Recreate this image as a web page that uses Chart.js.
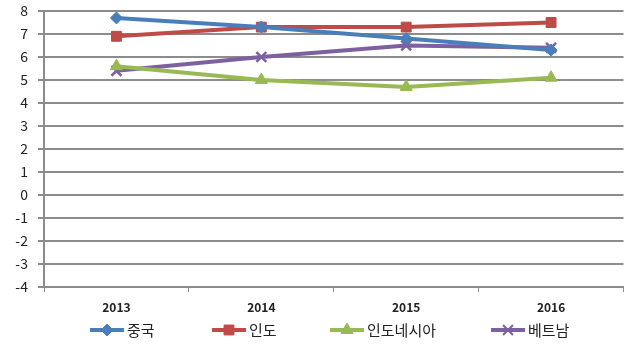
<!DOCTYPE html>
<html>
<head>
<meta charset="utf-8">
<script src="https://cdn.jsdelivr.net/npm/chart.js@4"></script>
<style>
  html, body { margin: 0; padding: 0; background: #fff; }
  #wrap { width: 633px; height: 350px; }
</style>
</head>
<body>
<div id="wrap"><canvas id="c" width="633" height="350"></canvas></div>
<script>
const years = ["2013", "2014", "2015", "2016"];
const china = [7.7, 7.3, 6.8, 6.3];
const india = [6.9, 7.3, 7.3, 7.5];
const indonesia = [5.6, 5.0, 4.7, 5.1];
const vietnam = [5.4, 6.0, 6.5, 6.4];
const yMin = -4;
const yMax = 8;

const FONT = "'Noto Sans CJK KR', 'Noto Sans', sans-serif";

const series = [
  { label: "중국", data: china, color: "#4a7ebb", point: "rectRot", r: 6 },
  { label: "인도", data: india, color: "#be4b48", point: "rect", r: 7 },
  { label: "인도네시아", data: indonesia, color: "#98b954", point: "triangle", r: 7 },
  { label: "베트남", data: vietnam, color: "#7d60a0", point: "crossRot", r: 7 },
];

// legend drawn the Excel way: short line with the marker in the middle
const excelLegend = {
  id: "excelLegend",
  afterDraw(chart) {
    const ctx = chart.ctx;
    const y = 330;
    const starts = [90, 212, 330, 491];
    ctx.save();
    ctx.font = "15px " + FONT;
    ctx.textBaseline = "middle";
    series.forEach((s, i) => {
      const x0 = starts[i];
      ctx.strokeStyle = s.color;
      ctx.lineWidth = 4;
      ctx.beginPath();
      ctx.moveTo(x0, y);
      ctx.lineTo(x0 + 34, y);
      ctx.stroke();
      ctx.fillStyle = s.color;
      ctx.lineWidth = s.point === "crossRot" ? 2 : 1;
      Chart.helpers.drawPoint(ctx, { pointStyle: s.point, radius: s.r, borderWidth: ctx.lineWidth }, x0 + 17, y);
      ctx.fillStyle = "#222";
      ctx.fillText(s.label, x0 + 37, y);
    });
    ctx.restore();
  },
};

new Chart(document.getElementById("c").getContext("2d"), {
  type: "line",
  data: {
    labels: years,
    datasets: series.map((s) => ({
      label: s.label,
      data: s.data,
      borderColor: s.color,
      backgroundColor: s.color,
      borderWidth: 4,
      pointStyle: s.point,
      pointRadius: s.r,
      pointBorderWidth: s.point === "crossRot" ? 2.5 : 1,
      tension: 0,
    })),
  },
  options: {
    responsive: false,
    animation: false,
    layout: { padding: { top: 11, right: 2, left: 0, bottom: 0 } },
    plugins: {
      legend: { display: false },
      tooltip: { enabled: false },
    },
    scales: {
      x: {
        offset: true,
        afterFit: (scale) => { scale.height = 63; },
        grid: {
          offset: true,
          drawOnChartArea: false,
          drawTicks: true,
          tickLength: 5,
          color: "#8c8c8c",
          lineWidth: 1,
        },
        border: { display: true, color: "#8c8c8c", width: 2 },
        ticks: {
          padding: 8,
          color: "#222",
          font: { family: FONT, size: 12, weight: "bold" },
        },
      },
      y: {
        min: yMin,
        max: yMax,
        afterFit: (scale) => {
          scale.width = 44;
          scale.paddingTop = 0;
          scale.paddingBottom = 0;
        },
        grid: {
          color: "#8c8c8c",
          lineWidth: 2,
          tickLength: 6,
        },
        border: { display: true, color: "#8c8c8c", width: 2 },
        ticks: {
          stepSize: 1,
          padding: 10,
          color: "#222",
          font: { family: FONT, size: 14 },
          callback: (v) => String(v),
        },
      },
    },
  },
  plugins: [excelLegend],
});
</script>
</body>
</html>
